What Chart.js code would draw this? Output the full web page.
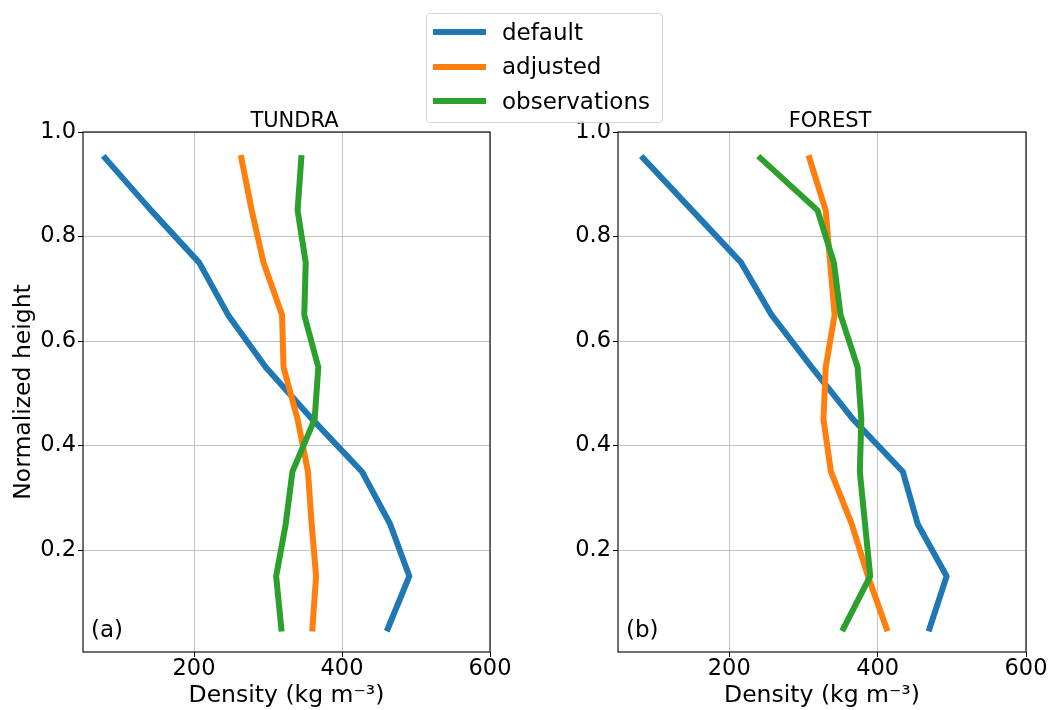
<!DOCTYPE html>
<html>
<head>
<meta charset="utf-8">
<script src="https://cdn.jsdelivr.net/npm/chart.js@4.4.1/dist/chart.umd.min.js"></script>
<style>
  body { margin: 0; background: #fff; width: 1050px; height: 710px; position: relative; overflow: hidden; font-family: "DejaVu Sans", sans-serif; }
  .panel { position: absolute; top: 0; height: 710px; }
  #legend { position: absolute; left: 426px; top: 13px; width: 235px; height: 108px; border: 1px solid #d6d6d6; border-radius: 4px; background: rgba(255,255,255,0.85); }
  #legend .sw { position: absolute; left: 6px; width: 53px; height: 6px; }
  #legend .lb { position: absolute; left: 75px; font-size: 23px; line-height: 23px; color: #000; white-space: nowrap; }
</style>
</head>
<body>
<div class="panel" style="left:0;width:520px"><canvas id="tundra"></canvas></div>
<div class="panel" style="left:534px;width:516px"><canvas id="forest"></canvas></div>
<div id="legend"></div>
<script>
// normalized heights, bottom to top
const heights = [0.05, 0.15, 0.25, 0.35, 0.45, 0.55, 0.65, 0.75, 0.85, 0.95];

const tundraDefault  = [462, 491, 465, 427, 360, 297, 246, 207, 142, 80];
const tundraAdjusted = [360, 365, 359, 354, 340, 321, 319, 294, 278, 264];
const tundraObs      = [318, 311, 324, 333, 363, 368, 349, 351, 340, 345];

const forestDefault  = [470, 493, 454, 434, 367, 311, 257, 216, 150, 84];
const forestAdjusted = [412, 387, 365, 337, 327, 330, 342, 336, 330, 308];
const forestObs      = [354, 390, 383, 376, 378, 373, 350, 341, 319, 242];

const seriesNames = ['default', 'adjusted', 'observations'];
const seriesColors = ['#1f77b4', '#ff7f0e', '#2ca02c'];
const xTicks = [200, 400, 600];
const yTicks = [0.2, 0.4, 0.6, 0.8, 1.0];

const FONT = '"DejaVu Sans", sans-serif';

// box around the axes, title and panel letter
const frame = {
  id: 'frame',
  afterDraw(chart, args, opts) {
    const { ctx, chartArea: a } = chart;
    ctx.save();
    ctx.strokeStyle = '#111';
    ctx.lineWidth = 1.2;
    ctx.strokeRect(a.left, a.top, a.right - a.left, a.bottom - a.top);
    ctx.fillStyle = '#000';
    ctx.font = '21px ' + FONT;
    ctx.textAlign = 'center';
    ctx.textBaseline = 'alphabetic';
    ctx.fillText(opts.title, (a.left + a.right) / 2 + 8, a.top - 5);
    ctx.font = '23px ' + FONT;
    ctx.textAlign = 'left';
    ctx.fillText(opts.tag, a.left + 8, a.bottom - 15);
    ctx.restore();
  }
};

function makePanel(id, title, tag, series, showYTitle, padRight) {
  const datasets = series.map((vals, k) => ({
    label: seriesNames[k],
    data: heights.map((h, i) => ({ x: vals[i], y: h })),
    showLine: true,
    borderColor: seriesColors[k],
    backgroundColor: seriesColors[k],
    borderWidth: 6,
    pointRadius: 0,
    pointHoverRadius: 0,
    borderJoinStyle: 'round',
    borderCapStyle: 'square',
    order: 3 - k
  }));

  new Chart(document.getElementById(id), {
    type: 'scatter',
    data: { datasets },
    options: {
      responsive: true,
      maintainAspectRatio: false,
      animation: false,
      layout: { padding: { top: 132, right: padRight, bottom: 0, left: 0 } },
      plugins: {
        legend: { display: false },
        tooltip: { enabled: false },
        frame: { title, tag }
      },
      scales: {
        x: {
          type: 'linear',
          min: 50,
          max: 600,
          afterBuildTicks: (ax) => { ax.ticks = xTicks.map(v => ({ value: v })); },
          afterFit: (ax) => { ax.height = 58; },
          ticks: { color: '#000', padding: 1, font: { family: FONT, size: 22.5, lineHeight: 1 }, callback: v => String(v), maxRotation: 0 },
          grid: { color: 'rgba(176,176,176,0.75)', lineWidth: 1, tickColor: '#000', tickLength: 5 },
          border: { display: false },
          title: { display: true, text: 'Density (kg m⁻³)', color: '#000', font: { family: FONT, size: 23.5 }, padding: { top: 0, bottom: 0 } }
        },
        y: {
          type: 'linear',
          min: 0.005,
          max: 1.0,
          afterBuildTicks: (ax) => { ax.ticks = yTicks.map(v => ({ value: v })); },
          afterFit: (ax) => { ax.width = id === 'tundra' ? 83 : 84; },
          ticks: { color: '#000', padding: 2, font: { family: FONT, size: 22.5 }, callback: v => v.toFixed(1) },
          grid: { color: 'rgba(176,176,176,0.75)', lineWidth: 1, tickColor: '#000', tickLength: 5 },
          border: { display: false },
          title: { display: showYTitle, text: 'Normalized height', color: '#000', font: { family: FONT, size: 23.5 }, padding: { top: 10, bottom: 0 } }
        }
      }
    },
    plugins: [frame]
  });
}

makePanel('tundra', 'TUNDRA', '(a)', [tundraDefault, tundraAdjusted, tundraObs], true, 30);
makePanel('forest', 'FOREST', '(b)', [forestDefault, forestAdjusted, forestObs], false, 24);

// legend
const legend = document.getElementById('legend');
seriesNames.forEach((name, i) => {
  const sw = document.createElement('div');
  sw.className = 'sw';
  sw.style.top = (15 + 34.6 * i) + 'px';
  sw.style.background = seriesColors[i];
  legend.appendChild(sw);
  const lb = document.createElement('div');
  lb.className = 'lb';
  lb.style.top = (6.5 + 34.6 * i) + 'px';
  lb.textContent = name;
  legend.appendChild(lb);
});
</script>
</body>
</html>
